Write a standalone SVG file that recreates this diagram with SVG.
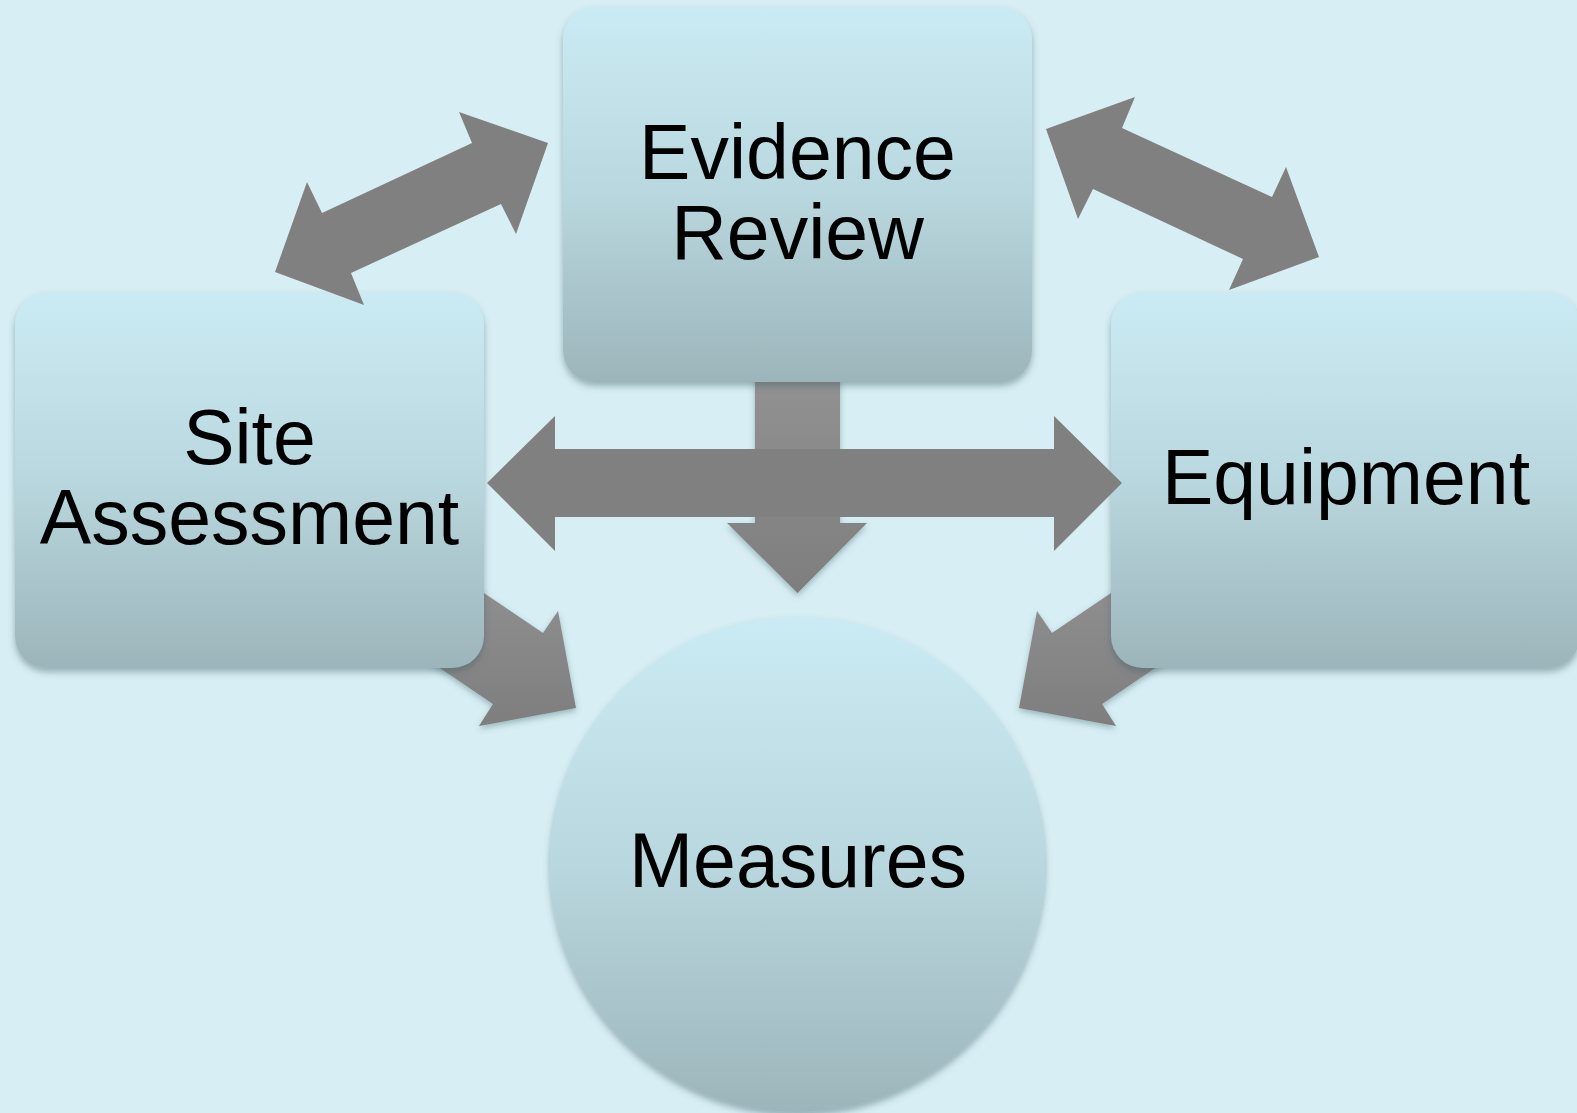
<svg xmlns="http://www.w3.org/2000/svg" width="1577" height="1113" viewBox="0 0 1577 1113">
<style>
.lbl{font-family:"Liberation Sans",Arial,sans-serif;font-size:77px;fill:#000;text-anchor:middle}
.box{fill:url(#gBox);filter:url(#sh)}
.arrFlat{fill:#808080}
.arrGrad{fill:url(#gArr);filter:url(#shA)}
</style>
<defs>
<linearGradient id="gBox" x1="0" y1="0" x2="0" y2="1">
<stop offset="0" stop-color="#cbebf4"/>
<stop offset="0.5" stop-color="#b9d7de"/>
<stop offset="1" stop-color="#9cb5bb"/>
</linearGradient>
<linearGradient id="gArr" x1="0" y1="0" x2="0" y2="1">
<stop offset="0" stop-color="#939393"/>
<stop offset="1" stop-color="#7e7e7e"/>
</linearGradient>
<filter id="sh" x="-10%" y="-10%" width="120%" height="125%">
<feDropShadow dx="0" dy="4" stdDeviation="3.5" flood-color="#3f5f68" flood-opacity="0.45"/>
</filter>
<filter id="shA" x="-10%" y="-10%" width="120%" height="125%">
<feDropShadow dx="0" dy="3" stdDeviation="3" flood-color="#3f5f68" flood-opacity="0.4"/>
</filter>
</defs>
<rect x="0" y="0" width="1577" height="1113" fill="#d7eff4"/>
<g id="connectors-back">
<polygon class="arrGrad" points="425,553 543,633 558,611 576,708 479,726 493,704 375,624"/>
<polygon class="arrGrad" points="1170,553 1052,633 1037,611 1019,708 1116,726 1102,704 1220,624"/>
<polygon class="arrGrad" points="755,360 840,360 840,523 867,523 797.5,593 727,523 755,523"/>
</g>
<g id="node-site">
<rect class="box" x="15" y="293" width="469" height="375" rx="32"/>
<text class="lbl" x="249.5" y="464">Site</text>
<text class="lbl" x="249.5" y="544">Assessment</text>
</g>
<g id="node-evidence">
<rect class="box" x="563" y="7" width="469" height="375" rx="32"/>
<text class="lbl" x="797.5" y="179">Evidence</text>
<text class="lbl" x="797.5" y="259">Review</text>
</g>
<g id="node-equipment">
<rect class="box" x="1111" y="293" width="469" height="375" rx="32"/>
<text class="lbl" x="1346" y="504">Equipment</text>
</g>
<g id="node-measures">
<circle class="box" cx="797.5" cy="864.5" r="247.5"/>
<text class="lbl" x="798" y="887">Measures</text>
</g>
<g id="connectors-front">
<polygon class="arrFlat" points="487,483 555,416 555,449 1054,449 1054,416 1122,483 1054,551 1054,517 555,517 555,551"/>
<polygon class="arrFlat" points="548,143 459,112 472,143 322,213 307,182 275,272 364,305 351,273 501,204 516,234"/>
<polygon class="arrFlat" points="1046,129 1135,97 1122,128 1272,197 1286,167 1319,257 1229,290 1243,259 1093,189 1078,219"/>
</g>
</svg>
